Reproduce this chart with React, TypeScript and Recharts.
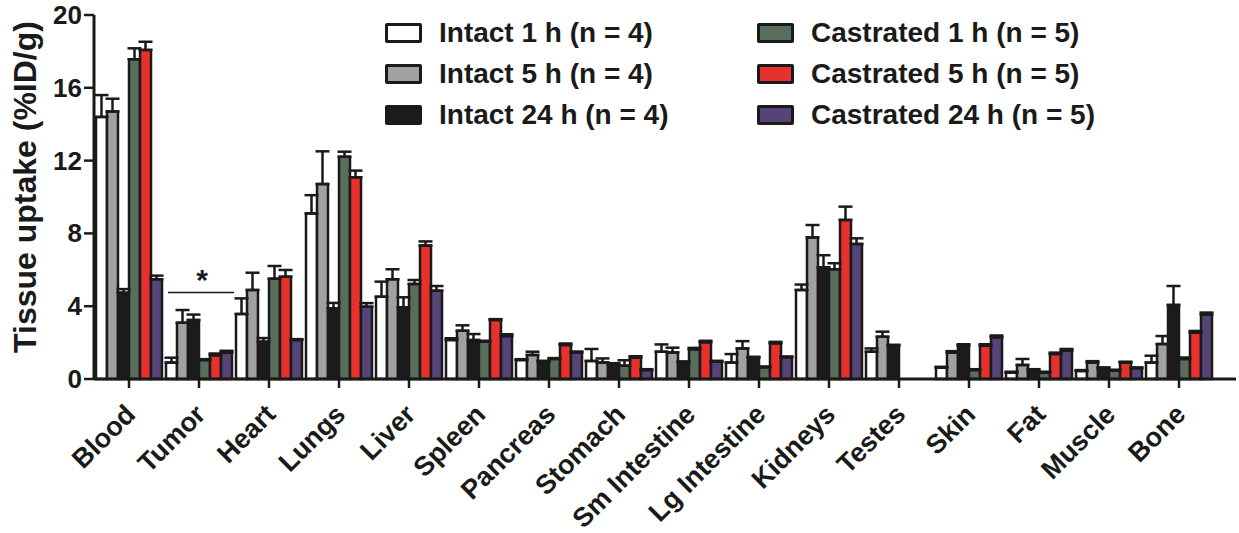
import React from 'react';
import { BarChart, Bar, XAxis, YAxis, ErrorBar, ReferenceDot } from 'recharts';

const organs = ['Blood', 'Tumor', 'Heart', 'Lungs', 'Liver', 'Spleen', 'Pancreas', 'Stomach', 'Sm Intestine', 'Lg Intestine', 'Kidneys', 'Testes', 'Skin', 'Fat', 'Muscle', 'Bone'];

const intact1h = [14.4, 0.9, 3.57, 9.1, 4.52, 2.14, 1.04, 0.99, 1.5, 0.9, 4.89, 1.5, 0.62, 0.35, 0.44, 0.9];
const intact1hErr = [1.2, 0.27, 0.86, 1.0, 0.83, 0.1, 0.05, 0.66, 0.4, 0.47, 0.3, 0.18, 0.05, 0.05, 0.05, 0.38];
const intact5h = [14.7, 3.09, 4.89, 10.71, 5.48, 2.65, 1.32, 0.9, 1.46, 1.68, 7.78, 2.32, 1.45, 0.77, 0.9, 1.92];
const intact5hErr = [0.7, 0.7, 0.95, 1.8, 0.55, 0.3, 0.18, 0.23, 0.26, 0.4, 0.68, 0.28, 0.08, 0.33, 0.08, 0.44];
const intact24h = [4.74, 3.24, 2.05, 3.88, 3.94, 2.14, 0.95, 0.82, 0.92, 1.17, 6.14, 1.83, 1.83, 0.49, 0.59, 4.07];
const intact24hErr = [0.2, 0.3, 0.2, 0.3, 0.55, 0.33, 0.05, 0.05, 0.05, 0.05, 0.66, 0.05, 0.08, 0.05, 0.05, 1.04];
const castrated1h = [17.57, 1.04, 5.51, 12.21, 5.22, 2.05, 1.1, 0.73, 1.63, 0.64, 6.03, null, 0.49, 0.35, 0.46, 1.1];
const castrated1hErr = [0.6, 0.05, 0.7, 0.28, 0.22, 0.05, 0.05, 0.3, 0.08, 0.05, 0.33, null, 0.05, 0.05, 0.05, 0.08];
const castrated5h = [18.08, 1.3, 5.62, 11.08, 7.33, 3.24, 1.87, 1.17, 2.02, 1.96, 8.74, null, 1.83, 1.37, 0.9, 2.54];
const castrated5hErr = [0.45, 0.1, 0.37, 0.37, 0.23, 0.05, 0.08, 0.08, 0.08, 0.08, 0.73, null, 0.08, 0.08, 0.05, 0.1];
const castrated24h = [5.48, 1.45, 2.14, 3.97, 4.85, 2.36, 1.46, 0.49, 0.95, 1.19, 7.42, null, 2.29, 1.55, 0.59, 3.55];
const castrated24hErr = [0.2, 0.1, 0.05, 0.2, 0.26, 0.1, 0.05, 0.05, 0.05, 0.05, 0.31, null, 0.1, 0.1, 0.05, 0.1];

const yTicks = [0, 4, 8, 12, 16, 20];
const significance = { organ: 'Tumor', y: 4.75, label: '*' };

const series = [
  { key: 'i1', name: 'Intact 1 h (n = 4)', values: intact1h, errs: intact1hErr, fill: '#ffffff' },
  { key: 'i5', name: 'Intact 5 h (n = 4)', values: intact5h, errs: intact5hErr, fill: '#a0a1a0' },
  { key: 'i24', name: 'Intact 24 h (n = 4)', values: intact24h, errs: intact24hErr, fill: '#1c1c1c' },
  { key: 'c1', name: 'Castrated 1 h (n = 5)', values: castrated1h, errs: castrated1hErr, fill: '#586e5a' },
  { key: 'c5', name: 'Castrated 5 h (n = 5)', values: castrated5h, errs: castrated5hErr, fill: '#e8312d' },
  { key: 'c24', name: 'Castrated 24 h (n = 5)', values: castrated24h, errs: castrated24hErr, fill: '#564378' },
];

const data = organs.map((organ, i) => {
  const row: any = { organ };
  series.forEach((s) => {
    row[s.key] = s.values[i];
    row[s.key + 'Err'] = s.errs[i] == null ? null : [0, s.errs[i]];
  });
  return row;
});

const FONT = '"Liberation Sans", Arial, Helvetica, sans-serif';
const INK = '#1a1a1a';

const XTick = (props: any) => {
  const { x, y, payload } = props;
  return (
    <g transform={`translate(${x + 8},${y + 26})`}>
      <text transform="rotate(-45)" textAnchor="end" x={0} y={0} fontFamily={FONT} fontWeight="bold" fontSize={27} fill={INK}>
        {payload.value}
      </text>
    </g>
  );
};

const YTick = (props: any) => {
  const { x, y, payload } = props;
  return (
    <text x={x} y={y} dy={9} textAnchor="end" fontFamily={FONT} fontWeight="bold" fontSize={26} fill={INK}>
      {payload.value}
    </text>
  );
};

const LegendBlock = () => {
  const col = (items: typeof series) => (
    <div style={{ display: 'flex', flexDirection: 'column' }}>
      {items.map((s) => (
        <div key={s.key} style={{ display: 'flex', alignItems: 'center', height: 41 }}>
          <div style={{ width: 31, height: 14, background: s.fill, border: `3px solid ${INK}`, borderRadius: 2, marginRight: 17 }} />
          <span style={{ fontFamily: FONT, fontWeight: 'bold', fontSize: 28, color: INK, whiteSpace: 'nowrap' }}>{s.name}</span>
        </div>
      ))}
    </div>
  );
  return (
    <div style={{ position: 'absolute', left: 385, top: 12, display: 'flex' }}>
      <div style={{ width: 372 }}>{col(series.slice(0, 3))}</div>
      {col(series.slice(3))}
    </div>
  );
};

const SigShape = (props: any) => {
  const { cx, cy } = props;
  return (
    <g>
      <line x1={cx - 31} x2={cx + 35} y1={cy} y2={cy} stroke={INK} strokeWidth={1.5} />
      <text x={cx + 3} y={cy - 3} textAnchor="middle" fontFamily={FONT} fontWeight="bold" fontSize={30} fill={INK}>
        {significance.label}
      </text>
    </g>
  );
};

const YLabel = (props: any) => {
  const { viewBox } = props;
  const cx = 25;
  const cy = viewBox.y + viewBox.height / 2 - 10;
  return (
    <text x={cx} y={cy} transform={`rotate(-90, ${cx}, ${cy})`} textAnchor="middle" dominantBaseline="central" fontFamily={FONT} fontWeight="bold" fontSize={32} fill={INK}>
      Tissue uptake (%ID/g)
    </text>
  );
};

export default function App() {
  return (
    <div style={{ position: 'absolute', left: 0, top: 0, width: 1239, height: 533, background: '#fff' }}>
      <BarChart width={1239} height={533} data={data} margin={{ top: 15, right: 3, bottom: 0, left: 0 }} barCategoryGap={2} barGap={0}>
        <XAxis
          dataKey="organ"
          interval={0}
          height={154}
          padding={{ left: 0, right: 22 }}
          tick={<XTick />}
          tickSize={9}
          tickMargin={2}
          axisLine={{ stroke: INK, strokeWidth: 3 }}
          tickLine={{ stroke: INK, strokeWidth: 2.5 }}
        />
        <YAxis
          width={94}
          domain={[0, 20]}
          ticks={yTicks}
          interval={0}
          tick={<YTick />}
          tickSize={10}
          tickMargin={2}
          axisLine={{ stroke: INK, strokeWidth: 3 }}
          tickLine={{ stroke: INK, strokeWidth: 2.5 }}
          label={<YLabel />}
        />
        {series.map((s) => (
          <Bar key={s.key} dataKey={s.key} name={s.name} fill={s.fill} stroke={INK} strokeWidth={2.5} isAnimationActive={false}>
            <ErrorBar dataKey={s.key + 'Err'} width={7} stroke={INK} strokeWidth={2.5} direction="y" />
          </Bar>
        ))}
        <ReferenceDot x={significance.organ} y={significance.y} r={0} shape={<SigShape />} ifOverflow="visible" />
      </BarChart>
      <LegendBlock />
    </div>
  );
}
